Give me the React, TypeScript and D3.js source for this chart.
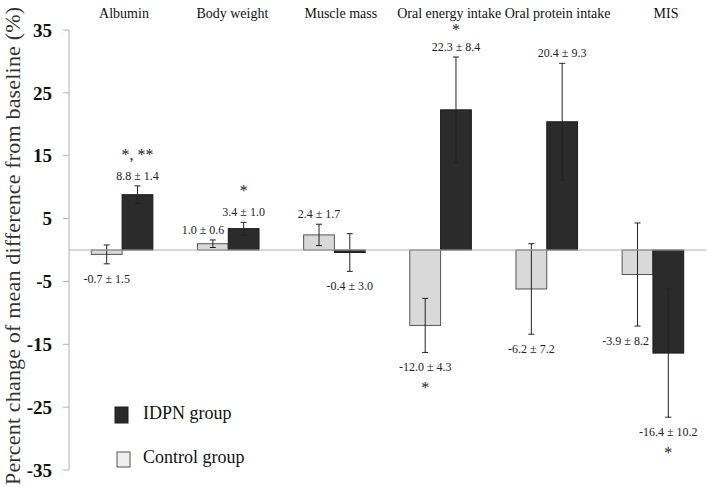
import React from "react";
import * as d3 from "d3";

// values
const categories = ["Albumin", "Body weight", "Muscle mass", "Oral energy intake", "Oral protein intake", "MIS"];
const controlMean = [-0.7, 1.0, 2.4, -12.0, -6.2, -3.9];
const controlSd = [1.5, 0.6, 1.7, 4.3, 7.2, 8.2];
const idpnMean = [8.8, 3.4, -0.4, 22.3, 20.4, -16.4];
const idpnSd = [1.4, 1.0, 3.0, 8.4, 9.3, 10.2];
const controlStars = ["", "", "", "*", "", ""];
const idpnStars = ["*, **", "*", "", "*", "", "*"];
const yTicks = [35, 25, 15, 5, -5, -15, -25, -35];
const groups = ["control", "idpn"];

const W = 708;
const H = 487;
const serif = "Liberation Serif";

export default function App() {
  const y = d3.scaleLinear().domain([-35, 35]).range([470, 30]);
  const x0 = d3.scaleBand().domain(categories).range([69, 706]).paddingInner(0.42).paddingOuter(0.21);
  const x1 = d3.scaleBand().domain(groups).range([0, x0.bandwidth()]);
  // titles sit a bit more spread out than the groups
  const xt = d3.scalePoint().domain(categories).range([124, 666]);

  const bars: any[] = [];
  categories.forEach((c, i) => {
    bars.push({ c, i, g: "control", v: controlMean[i], sd: controlSd[i], star: controlStars[i] });
    bars.push({ c, i, g: "idpn", v: idpnMean[i], sd: idpnSd[i], star: idpnStars[i] });
  });

  return (
    <svg width={W} height={H} style={{ position: "absolute", left: 0, top: 0, background: "#fff", fontFamily: serif }}>
      {/* y axis label */}
      <text
        transform={`translate(20,246) rotate(-90)`}
        textAnchor="middle"
        fontFamily={serif}
        fontSize={22}
        fill="#333"
        textLength={478}
        lengthAdjust="spacing"
      >
        Percent change of mean difference from baseline (%)
      </text>

      {/* y axis */}
      <line x1={69} x2={69} y1={y(35)} y2={y(-35)} stroke="#b0b0b0" />
      {yTicks.map((t) => (
        <g key={t}>
          <line x1={63} x2={69} y1={y(t)} y2={y(t)} stroke="#b0b0b0" />
          <text x={52} y={y(t)} dy="0.35em" textAnchor="end" fontFamily={serif} fontWeight="bold" fontSize={19} fill="#111">
            {t}
          </text>
        </g>
      ))}

      {/* category titles */}
      {categories.map((c) => (
        <text key={c} x={xt(c)} y={18} textAnchor="middle" fontFamily={serif} fontSize={14} fill="#111">
          {c}
        </text>
      ))}

      {/* bars */}
      {bars.map((b, k) => {
        const bx = x0(b.c)! + x1(b.g)!;
        const bw = x1.bandwidth();
        const cx = bx + bw / 2;
        const top = y(Math.max(0, b.v));
        const bot = y(Math.min(0, b.v));
        const hi = y(b.v + b.sd);
        const lo = y(b.v - b.sd);
        const up = b.v >= 0;
        const labelY = up ? hi - 6 : lo + 19;
        // keep the star under the titles
        const starY = up ? Math.max(labelY - 28, 27) : labelY + 14;
        // control label: push it left if the dark bar beside it reaches the label
        const idpnEdge = y(idpnMean[b.i]);
        const blocked =
          b.g === "control" && (up ? idpnEdge < labelY + 2 : idpnEdge > labelY - 12);
        return (
          <g key={k}>
            <rect
              x={bx}
              y={top}
              width={bw}
              height={Math.max(bot - top, 1)}
              fill={b.g === "idpn" ? "#2b2b2b" : "#d9d9d9"}
              stroke={b.g === "idpn" ? "#1c1c1c" : "#555"}
              strokeWidth={1}
            />
            <line x1={cx} x2={cx} y1={hi} y2={lo} stroke="#222" />
            <line x1={cx - 3} x2={cx + 3} y1={hi} y2={hi} stroke="#222" />
            <line x1={cx - 3} x2={cx + 3} y1={lo} y2={lo} stroke="#222" />
            <text
              x={blocked ? bx + bw - 4 : cx}
              y={labelY}
              textAnchor={blocked ? "end" : "middle"}
              fontFamily={serif}
              fontSize={12}
              fill="#222"
            >
              {`${b.v.toFixed(1)} ± ${b.sd.toFixed(1)}`}
            </text>
            {b.star && (
              <text x={cx} y={starY + 8} textAnchor="middle" fontFamily={serif} fontSize={16} fill="#222">
                {b.star}
              </text>
            )}
          </g>
        );
      })}

      {/* zero line */}
      <line x1={69} x2={706} y1={y(0)} y2={y(0)} stroke="#b0b0b0" />

      {/* legend */}
      <rect x={115} y={407} width={13} height={16} fill="#2b2b2b" stroke="#1c1c1c" />
      <text x={143} y={419} fontFamily={serif} fontSize={18} fill="#111">IDPN group</text>
      <rect x={117} y={452} width={13} height={15} fill="#efefef" stroke="#555" />
      <text x={143} y={463} fontFamily={serif} fontSize={18} fill="#111">Control group</text>
    </svg>
  );
}
